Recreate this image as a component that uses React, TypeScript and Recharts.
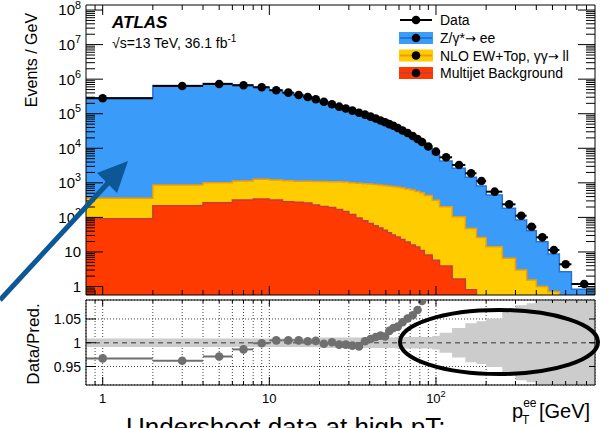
import React from "react";
import {
  Area,
  CartesianGrid,
  ComposedChart,
  ErrorBar,
  ReferenceLine,
  Scatter,
  XAxis,
  YAxis,
} from "recharts";

const FONT = '"Liberation Sans", Arial, Helvetica, sans-serif';

const BLUE = "#3a9cf8";
const BLUE_LINE = "#2474d8";
const YELLOW = "#ffcc00";
const YELLOW_LINE = "#f59a00";
const RED = "#ff3a00";
const RED_LINE = "#c83c3c";
const BAND = "#cccccc";
const RATIO_DOT = "#6f6f6f";

// pT(ee) bin edges in GeV
const binEdges = [
  0, 2, 4, 6, 8, 10, 12, 14, 16, 18, 20, 22.5, 25, 27.5, 30, 33, 36, 39, 42, 45, 48, 51, 54, 57,
  61, 65, 70, 75, 80, 85, 95, 105, 125, 150, 175, 200, 250, 300, 350, 400, 470, 550, 650, 900,
];

// events / GeV per bin
const dataEvents = [
  2.8e5, 6.35e5, 7.26e5, 6.65e5, 5.83e5, 4.78e5, 4.07e5, 3.49e5, 3.05e5, 2.62e5,
  2.23e5, 1.88e5, 1.6e5, 1.41e5,
  1.23e5, 1.07e5, 9.44e4, 8.22e4, 7.24e4, 6.38e4, 5.65e4, 5.01e4, 4.47e4,
  3.87e4, 3.27e4, 2.77e4, 2.27e4, 1.86e4, 1.52e4, 1.13e4, 7.98e3,
  5.48e3, 3.29e3, 1.89e3, 1.13e3, 555, 239, 112, 53.8, 26.5, 11.4, 4.4, 1.18,
];

const zeeEvents = [
  2.896e5, 6.59e5, 7.47e5, 6.73e5, 5.83e5, 4.75e5, 4.04e5, 3.46e5, 3.03e5, 2.6e5,
  2.22e5, 1.87e5, 1.6e5, 1.41e5,
  1.23e5, 1.07e5, 9.32e4, 8.06e4, 7.06e4, 6.2e4, 5.5e4, 4.81e4, 4.26e4,
  3.66e4, 3.07e4, 2.57e4, 2.09e4, 1.68e4, 1.35e4, 9.57e3, 6.28e3,
  4.09e3, 2.54e3, 1.4e3, 785, 431, 176, 81.1, 39.6, 18.8, 8.02, 2.38, 0.73,
];

const ewTopEvents = [
  266, 649, 743, 811, 929, 881, 868, 845, 849, 871,
  883, 886, 911, 902,
  889, 881, 864, 866, 845, 822, 799, 777, 754,
  732, 693, 649, 601, 548, 502, 419, 310,
  200, 103, 47.1, 26, 14, 6.56, 2.99, 1.53, 0.99, 0.7, 0.29, 0.09,
];

const multijetEvents = [
  91, 218, 267, 319, 341, 319, 282, 275, 261, 229,
  207, 194, 169, 148,
  121, 96, 80, 67, 57.5, 49.3, 42.4, 36.1, 31,
  27.1, 22.9, 19.4, 15.9, 13.9, 11, 8.2, 5.8,
  3.9, 1.65, 0.8, 0.3, 0.1, 0.05, 0.03, 0.02, 0.01, 0.01, 0.01, 0.01,
];

// data / prediction (points outside the panel left out)
const ratioValues = [
  0.967, 0.962, 0.971, 0.986, 0.999, 1.005, 1.005, 1.005, 1.003, 1.004,
  0.998, 1.001, 0.996, 0.996,
  0.994, 0.992, 1.003, 1.008, 1.012, 1.015, 1.013, 1.025, 1.031,
  1.034, 1.043, 1.051, 1.058, 1.069, 1.088, null, null,
  null, null, null, null, null, null, null, null, null, null, null, null,
];

// half width of the grey uncertainty band
const ratioBandHalf = [
  0.009, 0.009, 0.009, 0.009, 0.009, 0.009, 0.009, 0.009, 0.009, 0.009,
  0.011, 0.011, 0.011, 0.011,
  0.011, 0.011, 0.011, 0.011, 0.011, 0.011, 0.011, 0.011, 0.011,
  0.012, 0.012, 0.012, 0.012, 0.012, 0.012, 0.012, 0.014,
  0.021, 0.031, 0.041, 0.045, 0.051, 0.065, 0.079, 0.083, 0.089, 0.15, 0.2, 0.25,
];

const xMajorTicks = [1, 10, 100];
const xTickLabels = ["1", "10", "10^2"];
const yMajorTicks = [1, 10, 100, 1e3, 1e4, 1e5, 1e6, 1e7, 1e8];
const yTickLabels = ["1", "10", "10^2", "10^3", "10^4", "10^5", "10^6", "10^7", "10^8"];
const ratioTicks = [0.95, 1, 1.05];
const ratioTickLabels = ["0.95", "1", "1.05"];

const X_MIN = 0.794;
const X_MAX = 900;
const Y_MIN = 0.568;
const Y_MAX = 1.4e8;
const R_MIN = 0.911;
const R_MAX = 1.09;

const withMinors = (majors: number[], lo: number, hi: number) => {
  const out: number[] = [];
  for (const m of [majors[0] / 10, ...majors]) {
    for (let k = 1; k < 10; k++) {
      const v = +(m * k).toPrecision(6);
      if (v >= lo && v <= hi) out.push(v);
    }
  }
  return out;
};

const xTicks = withMinors(xMajorTicks, 0.85, 850);
const yTicks = withMinors(yMajorTicks, Y_MIN, Y_MAX);

const last = binEdges.length - 2;
const histRows = binEdges.map((edge, i) => {
  const k = Math.min(i, last);
  const mj = multijetEvents[k];
  const ew = mj + ewTopEvents[k];
  return { x: Math.max(edge, X_MIN), mj, ew, total: ew + zeeEvents[k], band: [1 - ratioBandHalf[k], 1 + ratioBandHalf[k]] };
});

const binPoint = (i: number, y: number) => {
  const lo = Math.max(binEdges[i], X_MIN);
  const hi = binEdges[i + 1];
  const c = (binEdges[i] + hi) / 2;
  return { x: c, y, xErr: [c - lo, hi - c] };
};

const dataPoints = dataEvents.map((v, i) => binPoint(i, v));
const ratioPoints = ratioValues
  .map((v, i) => (v === null ? null : binPoint(i, v)))
  .filter((p) => p !== null);

function renderPow(label: string, size: number) {
  const [base, exp] = label.split("^");
  if (exp === undefined) return base;
  return [
    base,
    <tspan key="e" dy={-size * 0.45} fontSize={size * 0.72}>
      {exp}
    </tspan>,
  ];
}

const leftTick = (majors: number[], labels: string[], major: number, minor: number, size: number) => (p: any) => {
  const i = majors.indexOf(p.payload.value);
  return (
    <g>
      <line x1={p.x} x2={p.x + (i >= 0 ? major : minor)} y1={p.y} y2={p.y} stroke="#000" />
      {i >= 0 && (
        <text x={p.x - 5} y={p.y + size * 0.36} textAnchor="end" fontSize={size} fill="#000">
          {renderPow(labels[i], size)}
        </text>
      )}
    </g>
  );
};

const rightTick = (majors: number[], major: number, minor: number) => (p: any) => {
  const len = majors.indexOf(p.payload.value) >= 0 ? major : minor;
  return <line x1={p.x} x2={p.x - len} y1={p.y} y2={p.y} stroke="#000" />;
};

const topTick = (major: number, minor: number) => (p: any) => {
  const len = xMajorTicks.indexOf(p.payload.value) >= 0 ? major : minor;
  return <line x1={p.x} x2={p.x} y1={p.y} y2={p.y + len} stroke="#000" />;
};

const bottomTick = (major: number, minor: number, withLabels: boolean) => (p: any) => {
  const i = xMajorTicks.indexOf(p.payload.value);
  return (
    <g>
      <line x1={p.x} x2={p.x} y1={p.y} y2={p.y - (i >= 0 ? major : minor)} stroke="#000" />
      {withLabels && i >= 0 && (
        <text x={p.x} y={p.y + 18} textAnchor="middle" fontSize={13} fill="#000">
          {renderPow(xTickLabels[i], 13)}
        </text>
      )}
    </g>
  );
};

const dot = (color: string) => (p: any) => <circle cx={p.cx} cy={p.cy} r={4.3} fill={color} />;

const frame = { stroke: "#000", strokeWidth: 1 };

const ARROW_FONT = '"DejaVu Sans", sans-serif';

function Legend() {
  const rows = [
    {
      y: 20, fill: null, line: "#000",
      label: <>Data</>,
    },
    {
      y: 38, fill: BLUE, line: BLUE_LINE,
      label: <>Z/γ*<tspan fontFamily={ARROW_FONT} fontSize={13}>→</tspan> ee</>,
    },
    {
      y: 55.5, fill: YELLOW, line: YELLOW_LINE,
      label: <>NLO EW+Top, γγ<tspan fontFamily={ARROW_FONT} fontSize={13}>→</tspan> ll</>,
    },
    {
      y: 73, fill: RED, line: RED_LINE,
      label: <>Multijet Background</>,
    },
  ];
  return (
    <g>
      {rows.map((r) => (
        <g key={r.y}>
          {r.fill && <rect x={399} y={r.y - 6} width={34} height={12} fill={r.fill} />}
          <line x1={400} x2={432} y1={r.y} y2={r.y} stroke={r.line} strokeWidth={2} />
          <circle cx={416} cy={r.y} r={4.3} fill="#000" />
          <text x={440} y={r.y + 5} fontSize={14} fill="#000">
            {r.label}
          </text>
        </g>
      ))}
    </g>
  );
}

export default function App() {
  return (
    <div
      style={{
        position: "fixed",
        left: 0,
        top: 0,
        width: 609,
        height: 428,
        background: "#fff",
        fontFamily: FONT,
        overflow: "hidden",
      }}
    >
      <div style={{ position: "absolute", left: 0, top: 0 }}>
        <ComposedChart width={609} height={297} data={histRows} margin={{ top: 4, right: 13, bottom: 1, left: 0 }}>
          <Area type="stepAfter" dataKey="total" fill={BLUE} fillOpacity={1} stroke={BLUE_LINE} strokeWidth={1.5} isAnimationActive={false} />
          <Area type="stepAfter" dataKey="ew" fill={YELLOW} fillOpacity={1} stroke={YELLOW_LINE} strokeWidth={1.5} isAnimationActive={false} />
          <Area type="stepAfter" dataKey="mj" fill={RED} fillOpacity={1} stroke={RED_LINE} strokeWidth={1.5} isAnimationActive={false} />
          <Scatter data={dataPoints} dataKey="y" shape={dot("#000")} isAnimationActive={false}>
            <ErrorBar dataKey="xErr" direction="x" width={0} stroke="#000" strokeWidth={2} />
          </Scatter>
          <XAxis dataKey="x" type="number" scale="log" domain={[X_MIN, X_MAX]} allowDataOverflow ticks={xTicks} interval={0} height={1} tickSize={0} tickMargin={0} tickLine={false} axisLine={frame} tick={bottomTick(9, 5, false)} />
          <XAxis xAxisId="top" orientation="top" dataKey="x" type="number" scale="log" domain={[X_MIN, X_MAX]} allowDataOverflow ticks={xTicks} interval={0} height={1} tickSize={0} tickMargin={0} tickLine={false} axisLine={frame} tick={topTick(10, 5)} />
          <YAxis type="number" scale="log" domain={[Y_MIN, Y_MAX]} allowDataOverflow ticks={yTicks} interval={0} width={86} tickSize={0} tickMargin={0} tickLine={false} axisLine={frame} tick={leftTick(yMajorTicks, yTickLabels, 17, 9, 15)} />
          <YAxis yAxisId="right" orientation="right" type="number" scale="log" domain={[Y_MIN, Y_MAX]} allowDataOverflow ticks={yTicks} interval={0} width={1} tickSize={0} tickMargin={0} tickLine={false} axisLine={frame} tick={rightTick(yMajorTicks, 17, 9)} />
        </ComposedChart>
      </div>

      <div style={{ position: "absolute", left: 0, top: 295 }}>
        <ComposedChart width={609} height={133} data={histRows} margin={{ top: 4, right: 13, bottom: 1, left: 0 }}>
          <CartesianGrid stroke="#444" strokeDasharray="1 2" />
          <Area type="stepAfter" dataKey="band" fill={BAND} fillOpacity={1} stroke="none" isAnimationActive={false} />
          <ReferenceLine y={1} stroke="#666" strokeDasharray="5 4" strokeWidth={1.5} />
          <Scatter data={ratioPoints} dataKey="y" shape={dot(RATIO_DOT)} isAnimationActive={false}>
            <ErrorBar dataKey="xErr" direction="x" width={0} stroke={RATIO_DOT} strokeWidth={2} />
          </Scatter>
          <XAxis dataKey="x" type="number" scale="log" domain={[X_MIN, X_MAX]} allowDataOverflow ticks={xTicks} interval={0} height={42} tickSize={0} tickMargin={0} tickLine={false} axisLine={frame} tick={bottomTick(8, 4, true)} />
          <XAxis xAxisId="top" orientation="top" dataKey="x" type="number" scale="log" domain={[X_MIN, X_MAX]} allowDataOverflow ticks={xTicks} interval={0} height={1} tickSize={0} tickMargin={0} tickLine={false} axisLine={frame} tick={topTick(6, 3)} />
          <YAxis type="number" domain={[R_MIN, R_MAX]} allowDataOverflow ticks={ratioTicks} interval={0} width={86} tickSize={0} tickMargin={0} tickLine={false} axisLine={frame} tick={leftTick(ratioTicks, ratioTickLabels, 10, 5, 14)} />
          <YAxis yAxisId="right" orientation="right" type="number" domain={[R_MIN, R_MAX]} allowDataOverflow ticks={ratioTicks} interval={0} width={1} tickSize={0} tickMargin={0} tickLine={false} axisLine={frame} tick={rightTick(ratioTicks, 6, 3)} />
        </ComposedChart>
      </div>

      <svg width={609} height={428} style={{ position: "absolute", left: 0, top: 0, pointerEvents: "none" }} fontFamily={FONT}>
        <text x={112} y={28} fontSize={17} fontWeight="bold" fontStyle="italic" fill="#000">
          ATLAS
        </text>
        <text x={112} y={48} fontSize={14} fill="#000">
          √s=13 TeV, 36.1 fb<tspan dy={-6} fontSize={10}>-1</tspan>
        </text>
        <Legend />
        <text transform="translate(37 60) rotate(-90)" textAnchor="middle" fontSize={16} fill="#000">
          Events / GeV
        </text>
        <text transform="translate(39 344) rotate(-90)" textAnchor="middle" fontSize={17} fill="#000">
          Data/Pred.
        </text>
        <text x={512} y={418} fontSize={20} fill="#000">
          p<tspan dy={-11} fontSize={12}>ee</tspan>
          <tspan x={522} dy={17} fontSize={12}>T</tspan>
          <tspan x={539} dy={-6}>[GeV]</tspan>
        </text>
        <line x1={0} y1={300} x2={108} y2={183} stroke="#0d5796" strokeWidth={5} />
        <polygon points="128,161 97,173 117,193" fill="#0d5796" />
        <ellipse cx={499} cy={342} rx={99} ry={32} fill="none" stroke="#000" strokeWidth={4} />
        <text x={126} y={436} fontSize={26} fill="#000">
          Undershoot data at high pT:
        </text>
      </svg>
    </div>
  );
}
